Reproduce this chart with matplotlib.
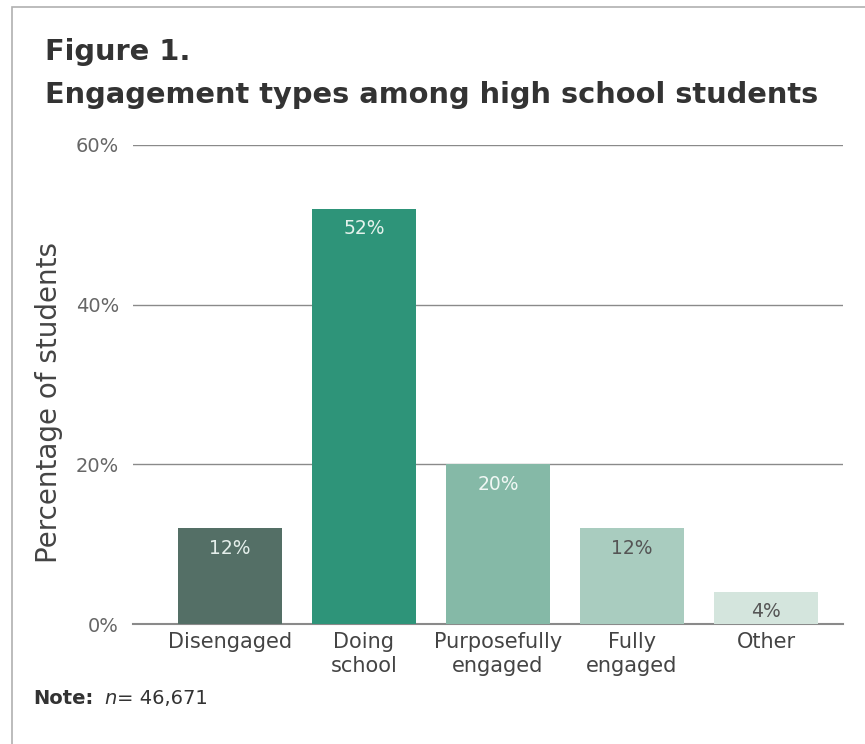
import matplotlib.pyplot as plt
from matplotlib.patches import Rectangle

categories = ['Disengaged', 'Doing\nschool', 'Purposefully\nengaged', 'Fully\nengaged', 'Other']
values = [12, 52, 20, 12, 4]
bar_colors = ['#546f66', '#2e9479', '#85b9a7', '#a9ccbf', '#d4e5dd']
label_colors = ['#e4eeea', '#e4f2ec', '#f0f7f4', '#555555', '#555555']
yticks = [0, 20, 40, 60]

plt.rcParams['font.family'] = ['DejaVu Sans']

fig = plt.figure(figsize=(8.65, 7.44), dpi=100)
W, H = 865, 744
ax = fig.add_axes([133 / W, 1 - 624 / H, (843 - 133) / W, (624 - 145) / H])

x = range(len(categories))
ax.bar(x, values, width=0.776, color=bar_colors, zorder=3)
for i, v in enumerate(values):
    ax.text(i, v - 1.3, f'{v}%', ha='center', va='top', fontsize=13.5,
            color=label_colors[i], zorder=4)

ax.set_xlim(-0.724, 4.575)
ax.set_ylim(0, 60)
ax.set_yticks(yticks)
ax.set_yticklabels([f'{t}%' for t in yticks], fontsize=14, color='#666666')
ax.set_xticks(list(x))
ax.set_xticklabels(categories, fontsize=15, color='#444444', linespacing=1.2)
ax.tick_params(axis='y', length=0, pad=10)
ax.tick_params(axis='x', length=0, pad=6)
ax.grid(axis='y', color='#8a8a8a', linewidth=1, zorder=0)
for s in ['top', 'right', 'left']:
    ax.spines[s].set_visible(False)
ax.spines['bottom'].set_color('#8a8a8a')
ax.spines['bottom'].set_linewidth(1.5)
ax.set_ylabel('Percentage of students', fontsize=20, color='#444444')
ax.yaxis.set_label_coords(-0.099, 0.463)

fig.text(45 / W, 1 - 52 / H, 'Figure 1.', fontsize=20.8, fontweight='bold',
         color='#333333', va='center', ha='left')
fig.text(45 / W, 1 - 95 / H, 'Engagement types among high school students', fontsize=20.8,
         fontweight='bold', color='#333333', va='center', ha='left')

fig.text(33 / W, 1 - 698 / H, 'Note:', fontsize=14, fontweight='bold', color='#333333',
         va='center', ha='left')
fig.text(104 / W, 1 - 698 / H, 'n', fontsize=14, style='italic', color='#333333',
         va='center', ha='left')
fig.text(117 / W, 1 - 698 / H, '= 46,671', fontsize=14, color='#333333',
         va='center', ha='left')

fig.patches.append(Rectangle((12 / W, -0.1), 1.2, 1 - 7 / H + 0.1, transform=fig.transFigure,
                             fill=False, edgecolor='#b0b0b0', linewidth=1.2))

fig.savefig('out.png', dpi=100)
